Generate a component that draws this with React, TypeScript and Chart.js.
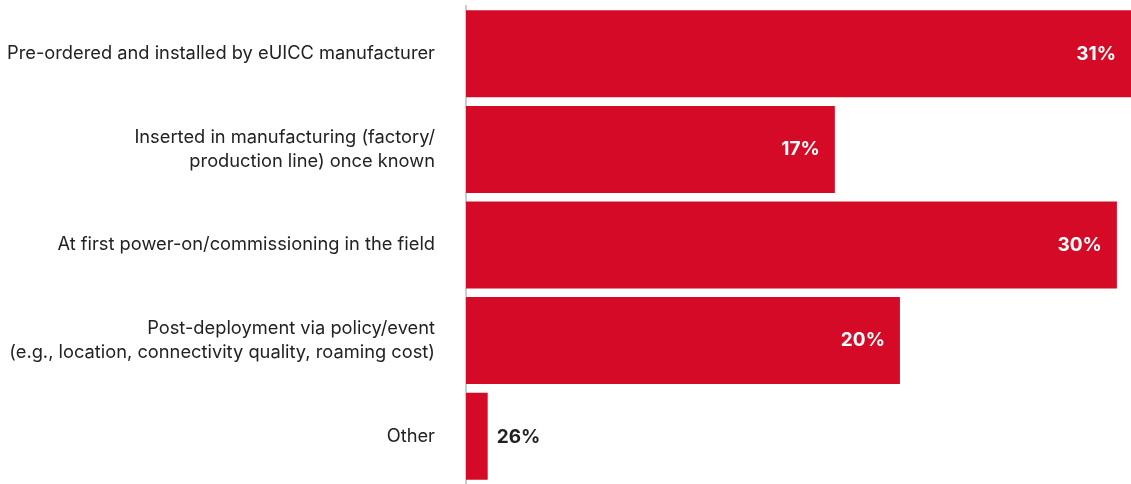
import React, { useEffect, useRef } from "react";
import { Chart, registerables } from "chart.js";

Chart.register(...registerables);

const categories: (string | string[])[] = [
  "Pre-ordered and installed by eUICC manufacturer",
  ["Inserted in manufacturing (factory/", "production line) once known"],
  "At first power-on/commissioning in the field",
  ["Post-deployment via policy/event", "(e.g., location, connectivity quality, roaming cost)"],
  "Other",
];
const barValues = [31, 17, 30, 20, 1];
const labelValues = [31, 17, 30, 20, 26];
const xMax = 30.65;

const RED = "#D40A27";
const FONT = "Inter, 'Noto Sans', sans-serif";

const valueLabels = {
  id: "valueLabels",
  afterDatasetsDraw(chart: any) {
    const ctx = chart.ctx;
    const meta = chart.getDatasetMeta(0);
    const area = chart.chartArea;
    ctx.save();
    ctx.font = `bold 19px ${FONT}`;
    ctx.textBaseline = "middle";
    meta.data.forEach((bar: any, i: number) => {
      const text = `${labelValues[i]}%`;
      const end = Math.min(bar.x, area.right);
      const w = ctx.measureText(text).width;
      if (end - bar.base > w + 30) {
        ctx.fillStyle = "#ffffff";
        ctx.textAlign = "right";
        ctx.fillText(text, end - 15, bar.y);
      } else {
        ctx.fillStyle = "#222222";
        ctx.textAlign = "left";
        ctx.fillText(text, end + 9, bar.y + 1);
      }
    });
    ctx.restore();
  },
};

export default function App() {
  const ref = useRef<HTMLCanvasElement | null>(null);
  useEffect(() => {
    document.body.style.margin = "0";
    const chart = new Chart(ref.current as HTMLCanvasElement, {
      type: "bar",
      data: {
        labels: categories,
        datasets: [
          {
            data: barValues,
            backgroundColor: RED,
            borderWidth: 0,
            categoryPercentage: 1,
            barPercentage: 0.91,
          },
        ],
      },
      options: {
        indexAxis: "y",
        animation: false,
        responsive: false,
        maintainAspectRatio: false,
        layout: { padding: { top: 6, bottom: -2, left: 0, right: 0 } },
        plugins: { legend: { display: false }, tooltip: { enabled: false } },
        scales: {
          x: {
            min: 0,
            max: xMax,
            display: false,
            grid: { display: false },
          },
          y: {
            afterFit: (scale: any) => {
              scale.width = 466;
              scale.paddingTop = 0;
              scale.paddingBottom = 0;
            },
            grid: { display: false, drawTicks: false },
            border: { display: true, color: "#c9cdcf", width: 2 },
            ticks: {
              padding: 31,
              color: "#222222",
              font: { family: FONT, size: 18.3, lineHeight: 1.3 },
            },
          },
        },
      },
      plugins: [valueLabels],
    });
    return () => chart.destroy();
  }, []);
  return (
    <div style={{ width: 1131, height: 484 }}>
      <canvas ref={ref} width={1131} height={484} style={{ display: "block" }} />
    </div>
  );
}
